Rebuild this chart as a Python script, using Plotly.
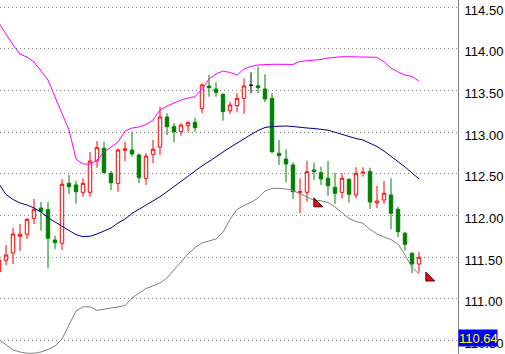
import plotly.graph_objects as go

# Bar positions (bar index; -1 is the partially visible first bar)
bar_index = list(range(-1, 60))

open_ = [111.326, 111.463, 111.550, 111.751, 111.775, 111.966, 112.090, 112.070, 111.706, 111.667,
         112.386, 112.366, 112.278, 112.278, 112.653, 112.806, 112.506, 112.386, 112.782, 112.785,
         112.725, 112.446, 112.734, 112.821, 113.181, 113.065, 113.005, 113.077, 113.117, 113.285,
         113.553, 113.517, 113.453, 113.257, 113.317, 113.405, 113.561, 113.556, 113.517, 113.405,
         112.746, 112.677, 112.606, 112.278, 112.278, 112.546, 112.513, 112.446, 112.338, 112.278,
         112.434, 112.246, 112.513, 112.528, 112.150, 112.186, 112.246, 112.074, 111.787, 111.547,
         111.418]
high = [111.490, 111.646, 111.854, 111.898, 111.970, 112.198, 112.162, 112.162, 111.758, 112.434,
        112.486, 112.417, 112.446, 112.758, 112.893, 112.885, 112.534, 112.806, 112.885, 113.005,
        112.746, 112.746, 112.905, 113.305, 113.225, 113.106, 113.106, 113.117, 113.173, 113.585,
        113.685, 113.597, 113.465, 113.364, 113.465, 113.645, 113.717, 113.784, 113.693, 113.465,
        112.905, 112.794, 112.638, 112.446, 112.657, 112.633, 112.585, 112.653, 112.513, 112.506,
        112.446, 112.578, 112.578, 112.573, 112.354, 112.414, 112.446, 112.106, 111.806, 111.559,
        111.566]
low = [111.311, 111.406, 111.418, 111.574, 111.718, 111.898, 111.818, 111.367, 111.595, 111.586,
       112.254, 112.141, 112.225, 112.225, 112.573, 112.506, 112.306, 112.285, 112.653, 112.705,
       112.386, 112.366, 112.626, 112.725, 112.965, 112.878, 112.957, 113.005, 113.005, 113.225,
       113.424, 113.424, 113.137, 113.217, 113.237, 113.217, 113.465, 113.465, 113.357, 112.746,
       112.606, 112.398, 112.198, 112.026, 112.165, 112.426, 112.366, 112.237, 112.138, 112.206,
       112.153, 112.206, 112.465, 112.078, 112.086, 112.138, 111.835, 111.739, 111.578, 111.307,
       111.314]
close = [111.466, 111.526, 111.778, 111.775, 111.954, 112.074, 112.050, 111.727, 111.674, 112.374,
         112.345, 112.285, 112.386, 112.653, 112.813, 112.513, 112.393, 112.785, 112.797, 112.737,
         112.453, 112.713, 112.794, 113.181, 113.065, 113.005, 113.085, 113.117, 113.053, 113.565,
         113.532, 113.477, 113.245, 113.325, 113.405, 113.553, 113.561, 113.532, 113.397, 112.765,
         112.717, 112.618, 112.285, 112.285, 112.525, 112.525, 112.438, 112.357, 112.266, 112.446,
         112.254, 112.506, 112.518, 112.162, 112.174, 112.266, 112.026, 111.806, 111.655, 111.418,
         111.499]

# Bollinger bands (per bar)
bb_upper = [114.308, 114.176, 114.044, 113.936, 113.900, 113.841, 113.733, 113.625, 113.421, 113.229,
            113.025, 112.677, 112.618, 112.614, 112.665, 112.761, 112.821, 112.881, 113.013, 113.049,
            113.061, 113.091, 113.145, 113.265, 113.313, 113.349, 113.385, 113.409, 113.424, 113.517,
            113.637, 113.697, 113.733, 113.715, 113.685, 113.757, 113.787, 113.805, 113.813, 113.813,
            113.813, 113.811, 113.811, 113.847, 113.853, 113.865, 113.871, 113.888, 113.900, 113.904,
            113.904, 113.904, 113.904, 113.900, 113.897, 113.841, 113.769, 113.721, 113.685, 113.667,
            113.613]
bb_middle = [112.378, 112.252, 112.192, 112.150, 112.126, 112.090, 112.042, 111.976, 111.922, 111.868,
             111.820, 111.770, 111.746, 111.751, 111.778, 111.814, 111.850, 111.910, 111.958, 112.024,
             112.072, 112.120, 112.174, 112.225, 112.285, 112.348, 112.414, 112.474, 112.534, 112.594,
             112.647, 112.707, 112.761, 112.815, 112.869, 112.917, 112.971, 113.019, 113.055, 113.067,
             113.073, 113.073, 113.067, 113.055, 113.049, 113.043, 113.031, 113.023, 112.998, 112.971,
             112.941, 112.923, 112.905, 112.869, 112.827, 112.773, 112.713, 112.653, 112.582, 112.510,
             112.438]
bb_lower = [110.513, 110.447, 110.387, 110.363, 110.348, 110.348, 110.363, 110.393, 110.435, 110.519,
            110.681, 110.855, 110.905, 110.906, 110.861, 110.879, 110.891, 110.903, 110.921, 111.011,
            111.071, 111.125, 111.155, 111.191, 111.251, 111.347, 111.442, 111.538, 111.616, 111.670,
            111.694, 111.718, 111.802, 111.952, 112.072, 112.120, 112.156, 112.210, 112.294, 112.324,
            112.326, 112.318, 112.300, 112.258, 112.216, 112.182, 112.176, 112.156, 112.102, 112.030,
            111.964, 111.928, 111.906, 111.832, 111.778, 111.742, 111.712, 111.658, 111.526, 111.376,
            111.299]

# Doji bar drawn in black
doji_index = 36  # position in the lists (bar 35)

# Arrow signals
arrow_x = [44.4, 60.4]
arrow_y = [112.14, 111.25]

# Axis ticks and current price
tick_vals = [110.5, 111.0, 111.5, 112.0, 112.5, 113.0, 113.5, 114.0, 114.5]
current_price = 110.64

RED = "#FF0000"
GREEN = "#008000"

main_idx = [k for k in range(len(bar_index)) if k != doji_index]

fig = go.Figure()

for ys, col in [(bb_upper, "#FF00FF"), (bb_middle, "#000080"), (bb_lower, "#808080")]:
    fig.add_trace(go.Scatter(x=bar_index, y=ys, mode="lines",
                             line=dict(color=col, width=1), hoverinfo="skip"))

fig.add_trace(go.Candlestick(
    x=[bar_index[k] for k in main_idx],
    open=[open_[k] for k in main_idx],
    high=[high[k] for k in main_idx],
    low=[low[k] for k in main_idx],
    close=[close[k] for k in main_idx],
    increasing=dict(line=dict(color=RED, width=1), fillcolor="white"),
    decreasing=dict(line=dict(color=GREEN, width=1), fillcolor=GREEN),
    whiskerwidth=0,
))
fig.add_trace(go.Candlestick(
    x=[bar_index[doji_index]],
    open=[open_[doji_index]], high=[high[doji_index]],
    low=[low[doji_index]], close=[close[doji_index]],
    increasing=dict(line=dict(color="black", width=1), fillcolor="black"),
    decreasing=dict(line=dict(color="black", width=1), fillcolor="black"),
    whiskerwidth=0,
))

fig.add_trace(go.Scatter(x=arrow_x, y=arrow_y, mode="markers",
                         marker=dict(symbol="triangle-sw", size=10, color=RED,
                                     line=dict(color="black", width=0.8)),
                         hoverinfo="skip"))

fig.add_annotation(x=1, xref="paper", y=current_price, yref="y",
                   xanchor="left", yanchor="top",
                   text=f"{current_price:.2f}", showarrow=False,
                   font=dict(family="Liberation Sans", size=13, color="#FFFF00"),
                   bgcolor="#0000FF", width=38, height=16, borderpad=0, align="left")

fig.update_layout(
    width=505, height=354,
    margin=dict(l=0, r=47, t=0, b=0),
    paper_bgcolor="white", plot_bgcolor="white",
    showlegend=False,
    font=dict(family="Liberation Sans", size=13, color="black"),
    xaxis=dict(range=[-0.857, 64.571], visible=False, rangeslider=dict(visible=False),
               showgrid=False, zeroline=False, fixedrange=True),
    yaxis=dict(range=[110.339, 114.584], side="right", tickvals=tick_vals,
               tickformat=".2f", showgrid=True, gridcolor="#808080", griddash="1px,3px",
               gridwidth=1, showline=True, linecolor="#808080", linewidth=1,
               ticks="", zeroline=False, ticklabelstandoff=3, ticklabelshift=3),
)

fig.write_html("out.html")
